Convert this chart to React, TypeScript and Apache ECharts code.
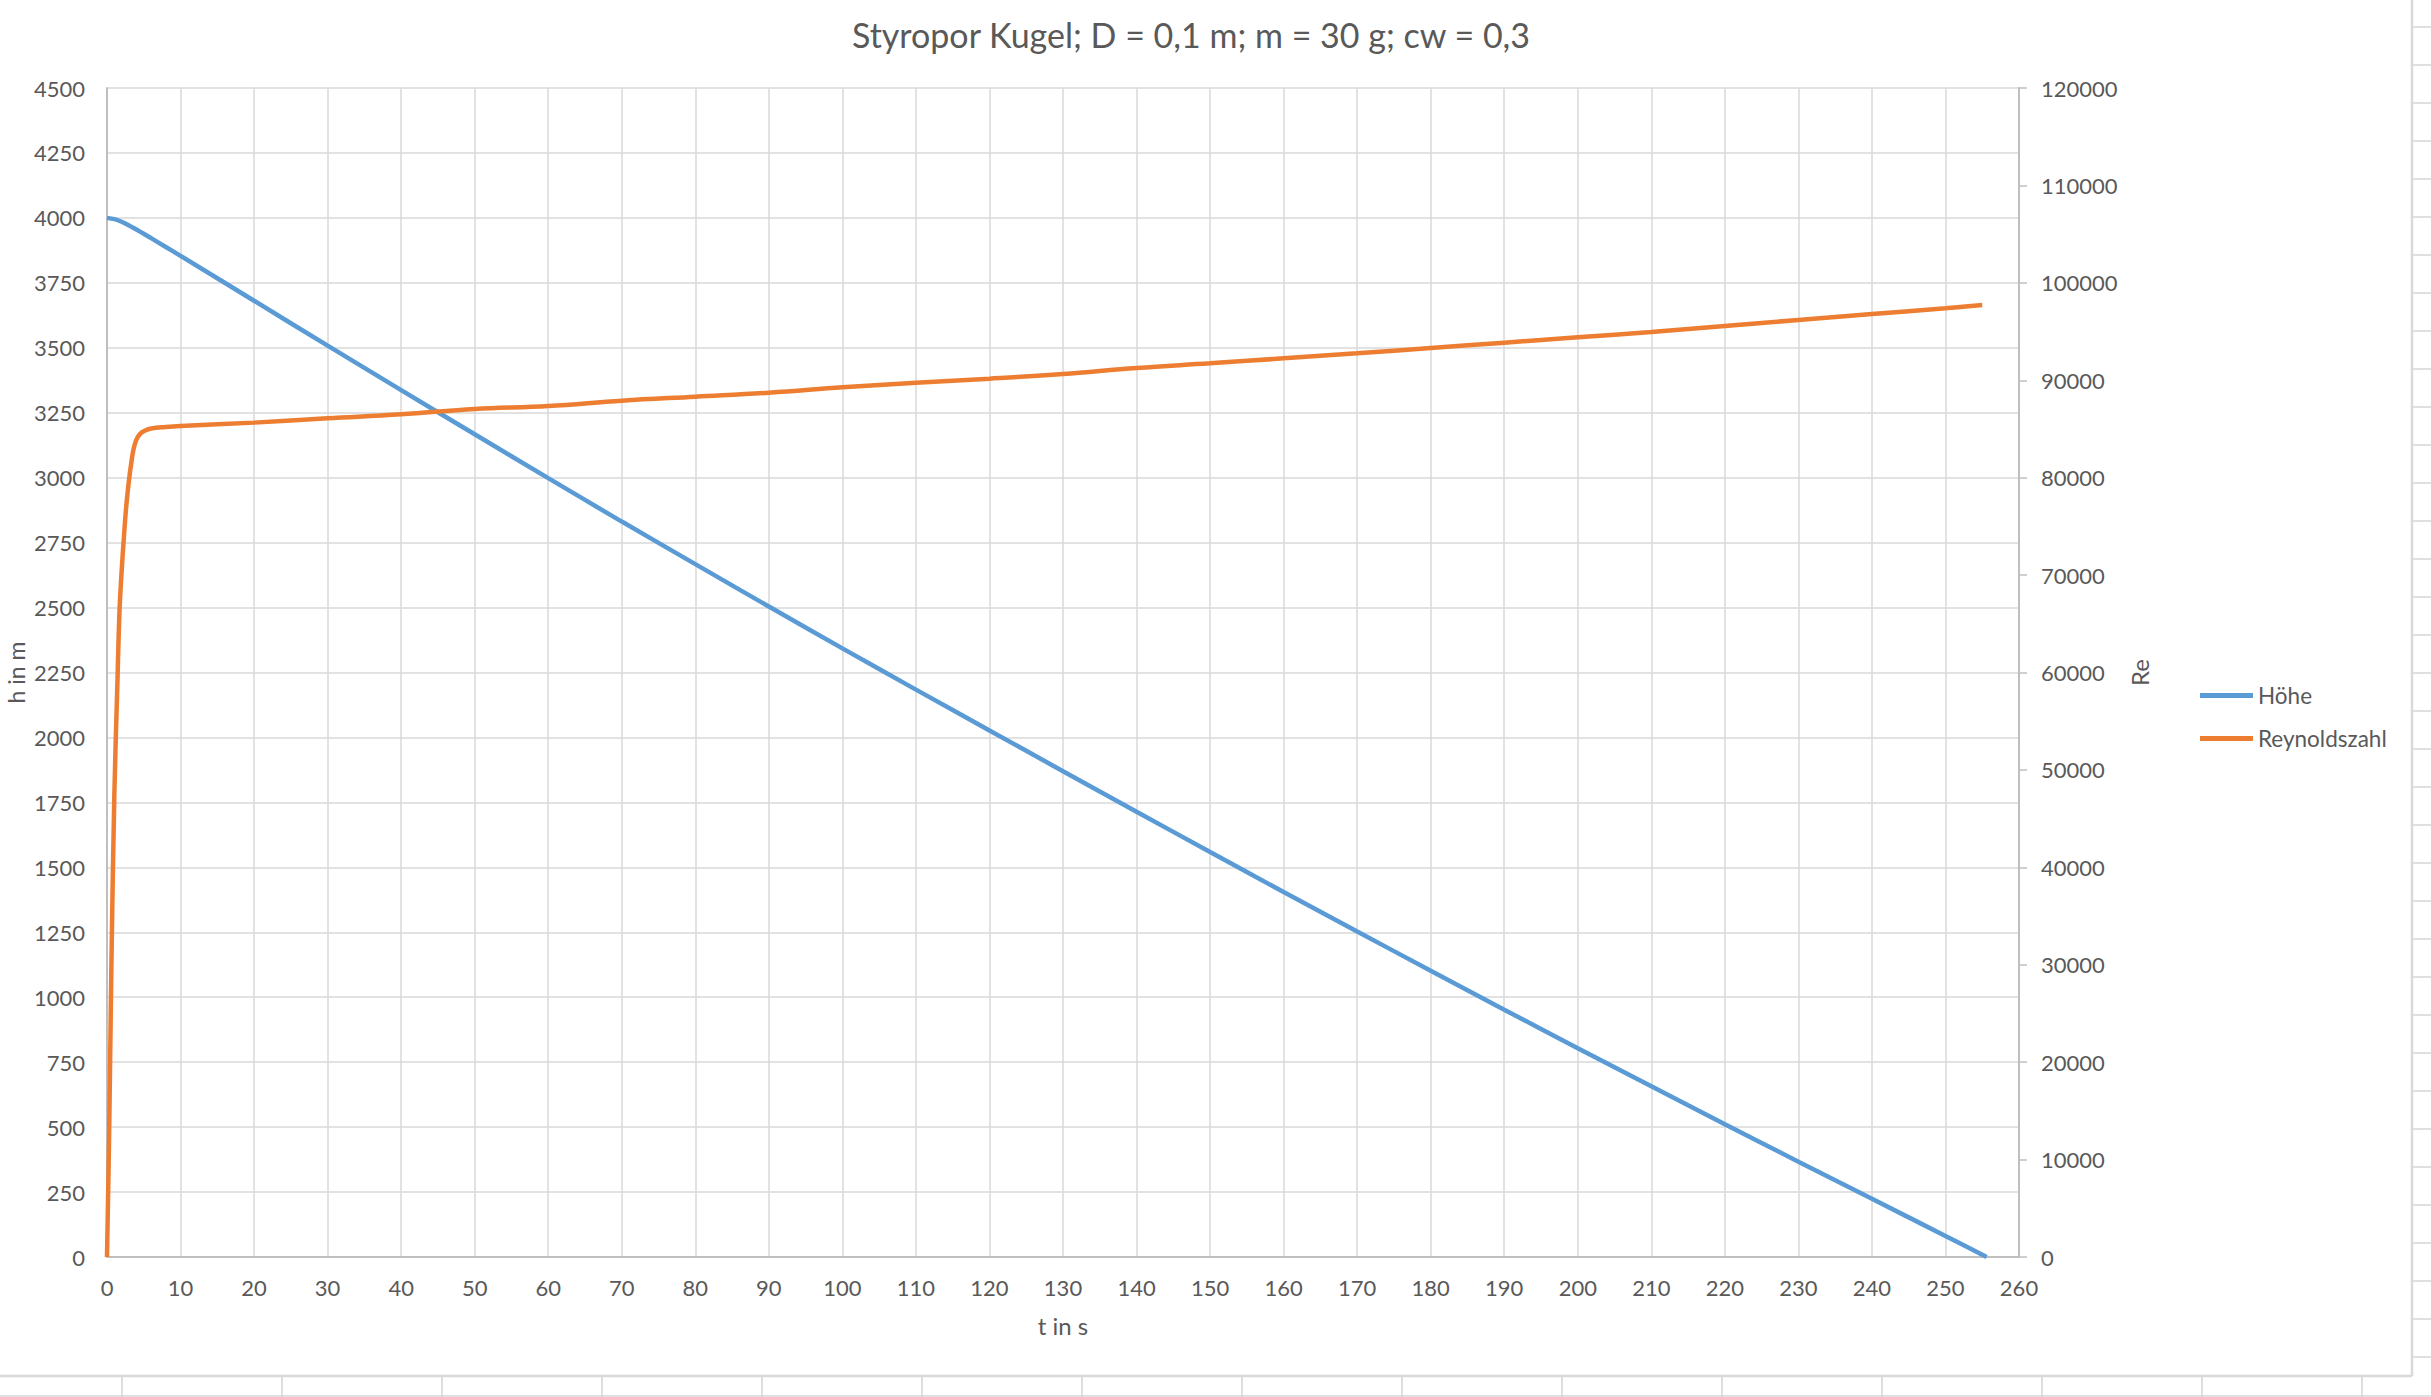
import React, { useEffect, useRef } from "react";
import * as echarts from "echarts";

const TITLE = "Styropor Kugel; D = 0,1 m; m = 30 g; cw = 0,3";
const X_NAME = "t in s";
const Y_LEFT_NAME = "h in m";
const Y_RIGHT_NAME = "Re";
const SERIES_NAMES = ["Höhe", "Reynoldszahl"];

// Höhe h (m) over time t (s)
const hoeheT = [0, 1, 2, 3, 4, 5, 6, 8, 10, 20, 30, 40, 50, 60, 70, 80, 90, 100, 110, 120, 130, 140, 150, 160, 170, 180, 190, 200, 210, 220, 230, 240, 250, 255.6];
const hoeheH = [4000, 3995, 3985, 3971, 3955, 3939, 3922, 3888, 3854, 3681, 3508, 3337, 3167, 2998, 2831, 2667, 2504, 2343, 2184, 2027, 1870, 1714, 1559, 1405, 1253, 1102, 952, 804, 657, 511, 367, 224, 81, 0];

// Reynoldszahl over time t (s)
const reT = [0, 0.3, 0.6, 1.0, 1.4, 1.7, 2.0, 2.3, 2.6, 3.0, 3.3, 3.6, 4.0, 4.5, 5.2, 6, 8, 10, 20, 30, 40, 50, 60, 70, 80, 90, 100, 110, 120, 130, 140, 150, 160, 170, 180, 190, 200, 210, 220, 230, 240, 250, 255];
const reV = [0, 13000, 30000, 47500, 58500, 66300, 70500, 73900, 76900, 79800, 81500, 82900, 83900, 84500, 84850, 85050, 85200, 85300, 85650, 86090, 86500, 87050, 87360, 87900, 88310, 88720, 89270, 89750, 90160, 90640, 91260, 91740, 92250, 92770, 93310, 93860, 94410, 94950, 95570, 96190, 96800, 97390, 97720];

const FONT = "Lato";
const TEXT_COLOR = "#595959";
const GRID_COLOR = "#d9d9d9";
const AXIS_COLOR = "#bfbfbf";

export default function App() {
  const ref = useRef<HTMLDivElement | null>(null);

  useEffect(() => {
    if (!ref.current) return;
    const chart = echarts.init(ref.current, undefined, { renderer: "svg" });

    const W = 2431;
    const H = 1397;
    const decor: any[] = [];
    const cellLine = { stroke: "#d4d4d4", lineWidth: 1.5 };
    decor.push({ type: "line", shape: { x1: 0, y1: 1396, x2: W, y2: 1396 }, style: cellLine, silent: true });
    for (let x = 122; x < W; x += 160) {
      decor.push({ type: "line", shape: { x1: x, y1: 1377, x2: x, y2: H }, style: cellLine, silent: true });
    }
    for (let y = 1357; y > 0; y -= 38) {
      decor.push({ type: "line", shape: { x1: 2413, y1: y, x2: W, y2: y }, style: cellLine, silent: true });
    }
    decor.push({ type: "line", shape: { x1: 0, y1: 1376, x2: 2412, y2: 1376 }, style: { stroke: "#d9d9d9", lineWidth: 2.5 }, silent: true });
    decor.push({ type: "line", shape: { x1: 2412, y1: 0, x2: 2412, y2: 1376 }, style: { stroke: "#d9d9d9", lineWidth: 2.5 }, silent: true });

    const plain = (v: number) => String(v);

    const option: any = {
      animation: false,
      backgroundColor: "#ffffff",
      textStyle: { fontFamily: FONT },
      title: {
        text: TITLE,
        left: 1186,
        top: 12,
        textAlign: "center",
        textStyle: { fontFamily: FONT, fontSize: 34, fontWeight: "normal", color: TEXT_COLOR },
      },
      legend: {
        orient: "vertical",
        left: 2195,
        top: 679,
        itemWidth: 53,
        itemHeight: 5,
        itemGap: 20,
        data: SERIES_NAMES.map((n) => ({ name: n, icon: "rect" })),
        textStyle: { fontFamily: FONT, fontSize: 22.5, color: TEXT_COLOR },
      },
      grid: { left: 107, right: 412, top: 88, bottom: 140, containLabel: false, outerBoundsMode: "none" },
      xAxis: {
        type: "value",
        min: 0,
        max: 260,
        interval: 10,
        name: X_NAME,
        nameLocation: "middle",
        nameGap: 56,
        nameMoveOverlap: false,
        nameTextStyle: { fontFamily: FONT, fontSize: 24, color: TEXT_COLOR },
        axisLine: { show: true, lineStyle: { color: AXIS_COLOR, width: 2 } },
        axisTick: { show: false },
        axisLabel: { fontFamily: FONT, fontSize: 22, color: TEXT_COLOR, margin: 19, formatter: plain },
        splitLine: { show: true, lineStyle: { color: GRID_COLOR, width: 1.5 } },
      },
      yAxis: [
        {
          type: "value",
          min: 0,
          max: 4500,
          interval: 250,
          name: Y_LEFT_NAME,
          nameLocation: "middle",
          nameRotate: 90,
          nameGap: 80,
          nameMoveOverlap: false,
          nameTextStyle: { fontFamily: FONT, fontSize: 23, color: TEXT_COLOR },
          axisLine: { show: true, lineStyle: { color: AXIS_COLOR, width: 2 } },
          axisTick: { show: false },
          axisLabel: { fontFamily: FONT, fontSize: 22, color: TEXT_COLOR, margin: 22, formatter: plain },
          splitLine: { show: true, lineStyle: { color: GRID_COLOR, width: 1.5 } },
        },
        {
          type: "value",
          position: "right",
          min: 0,
          max: 120000,
          interval: 10000,
          name: Y_RIGHT_NAME,
          nameLocation: "middle",
          nameRotate: 90,
          nameGap: 108,
          nameMoveOverlap: false,
          nameTextStyle: { fontFamily: FONT, fontSize: 24, color: TEXT_COLOR },
          axisLine: { show: true, lineStyle: { color: AXIS_COLOR, width: 2 } },
          axisTick: { show: true, inside: false, length: 8, lineStyle: { color: AXIS_COLOR, width: 1.5 } },
          axisLabel: { fontFamily: FONT, fontSize: 22, color: TEXT_COLOR, margin: 22, formatter: plain },
          splitLine: { show: false },
        },
      ],
      series: [
        {
          name: SERIES_NAMES[0],
          type: "line",
          yAxisIndex: 0,
          data: hoeheT.map((t, i) => [t, hoeheH[i]]),
          showSymbol: false,
          smooth: 0.3,
          lineStyle: { color: "#5b9bd5", width: 4.5 },
          itemStyle: { color: "#5b9bd5" },
          z: 3,
        },
        {
          name: SERIES_NAMES[1],
          type: "line",
          yAxisIndex: 1,
          data: reT.map((t, i) => [t, reV[i]]),
          showSymbol: false,
          smooth: 0.4,
          lineStyle: { color: "#ed7d31", width: 4.5 },
          itemStyle: { color: "#ed7d31" },
          z: 4,
        },
      ],
      graphic: decor,
    };

    chart.setOption(option);
    return () => chart.dispose();
  }, []);

  return (
    <div
      ref={ref}
      style={{ position: "fixed", left: 0, top: 0, width: 2431, height: 1397, background: "#fff" }}
    />
  );
}
